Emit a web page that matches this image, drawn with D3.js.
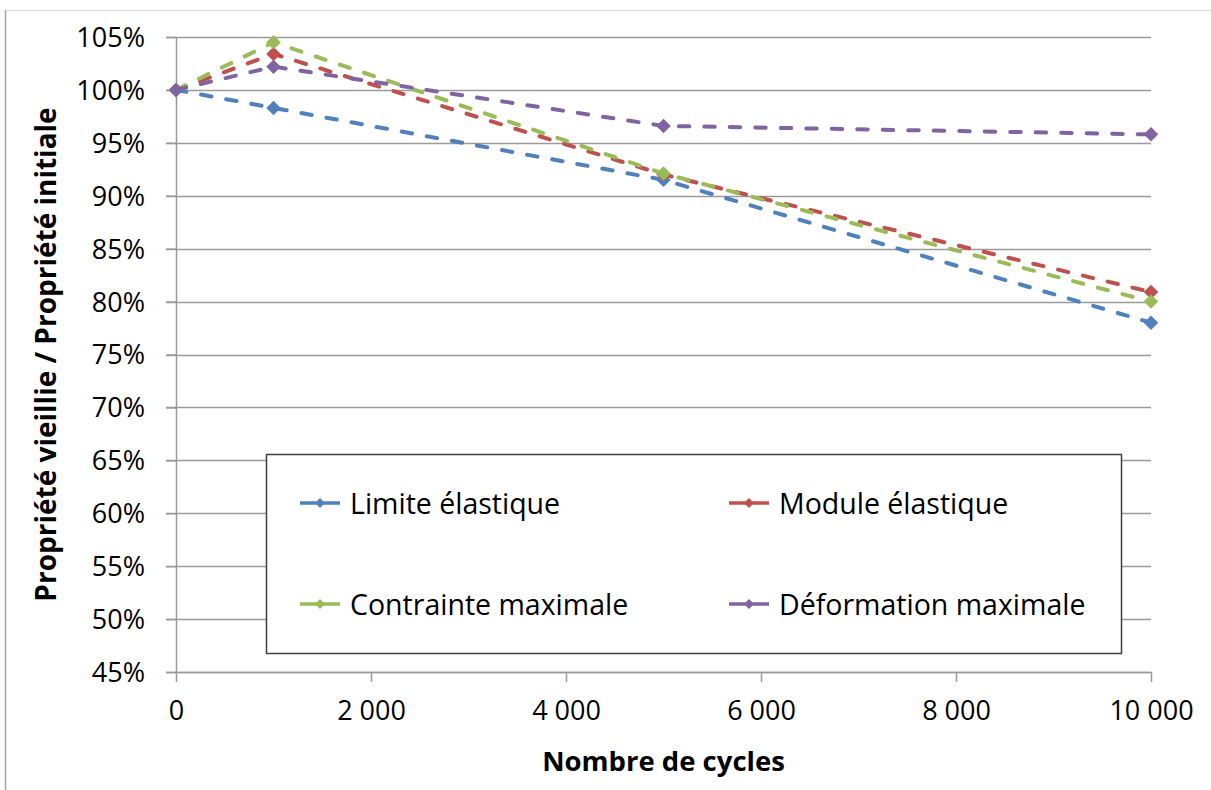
<!DOCTYPE html>
<html>
<head>
<meta charset="utf-8">
<script src="https://cdn.jsdelivr.net/npm/d3@7"></script>
<style>
  html, body { margin: 0; padding: 0; background: #fff; }
  svg { display: block; }
  text { font-family: "Open Sans", "DejaVu Sans", sans-serif; fill: #000; }
</style>
</head>
<body>
<svg id="chart" width="1211" height="790"></svg>
<script>
// Number of cycles at each measurement
const cycles = [0, 1000, 5000, 10000];

// Aged property / initial property, per series
const seriesNames = ["Limite élastique", "Module élastique", "Contrainte maximale", "Déformation maximale"];
const limiteElastique   = [1.000, 0.983, 0.915, 0.780];
const moduleElastique   = [1.000, 1.034, 0.920, 0.809];
const contrainteMax     = [1.000, 1.045, 0.921, 0.800];
const deformationMax    = [1.000, 1.022, 0.966, 0.958];
const seriesColors = ["#4f81bd", "#c0504d", "#9bbb59", "#8064a2"];

// Axis ticks
const xTicks = [0, 2000, 4000, 6000, 8000, 10000];
const yTicks = [0.45, 0.50, 0.55, 0.60, 0.65, 0.70, 0.75, 0.80, 0.85, 0.90, 0.95, 1.00, 1.05];

const xTitle = "Nombre de cycles";
const yTitle = "Propriété vieillie / Propriété initiale";

const seriesValues = [limiteElastique, moduleElastique, contrainteMax, deformationMax];
const series = seriesNames.map((name, i) => ({
  name,
  color: seriesColors[i],
  points: cycles.map((c, j) => ({ x: c, y: seriesValues[i][j] }))
}));

const svg = d3.select("#chart");
const plot = { left: 176, right: 1151, top: 37, bottom: 672 };

const x = d3.scaleLinear().domain([0, 10000]).range([plot.left, plot.right]);
const y = d3.scaleLinear().domain([0.45, 1.05]).range([plot.bottom, plot.top]);

const frLocale = d3.formatLocale({ decimal: ",", thousands: " ", grouping: [3], currency: ["", " €"] });
const fmtX = frLocale.format(",d");
const fmtY = d3.format(".0%");

// Outer chart frame
svg.append("rect")
  .attr("x", 5.5).attr("y", 10.5)
  .attr("width", 1300).attr("height", 900)
  .attr("fill", "none")
  .attr("stroke", "#d9d9d9")
  .attr("stroke-width", 1);
svg.append("line")
  .attr("x1", 5.5).attr("x2", 5.5).attr("y1", 10).attr("y2", 790)
  .attr("stroke", "#a6a6a6").attr("stroke-width", 1.5);

// Horizontal gridlines (extending left as tick marks)
svg.append("g")
  .selectAll("line")
  .data(yTicks)
  .join("line")
  .attr("x1", plot.left - 10)
  .attr("x2", plot.right)
  .attr("y1", d => Math.round(y(d)) + 0.5)
  .attr("y2", d => Math.round(y(d)) + 0.5)
  .attr("stroke", "#9a9a9a")
  .attr("stroke-width", 1.5);

// Y axis
const yAxis = svg.append("g")
  .attr("transform", `translate(${plot.left},0)`)
  .call(d3.axisLeft(y).tickValues(yTicks).tickFormat(fmtY).tickSize(10).tickSizeOuter(0).tickPadding(21));
yAxis.select(".domain").attr("stroke", "#9a9a9a").attr("stroke-width", 1.5);
yAxis.selectAll(".tick line").attr("stroke", "#9a9a9a").attr("stroke-width", 1.5);
yAxis.selectAll(".tick text")
  .style("font-family", "'Open Sans', sans-serif")
  .style("font-size", "27px")
  .attr("dy", "0.35em");

// X axis
const xAxis = svg.append("g")
  .attr("transform", `translate(0,${plot.bottom})`)
  .call(d3.axisBottom(x).tickValues(xTicks).tickFormat(fmtX).tickSize(10).tickSizeOuter(0).tickPadding(19));
xAxis.select(".domain").attr("stroke", "#9a9a9a").attr("stroke-width", 1.5);
xAxis.selectAll(".tick line").attr("stroke", "#9a9a9a").attr("stroke-width", 1.5);
xAxis.selectAll(".tick text")
  .style("font-family", "'Open Sans', sans-serif")
  .style("font-size", "27px");

// Axis titles
svg.append("text")
  .attr("x", (plot.left + plot.right) / 2)
  .attr("y", 760)
  .attr("text-anchor", "middle")
  .attr("dominant-baseline", "central")
  .style("font-size", "27.5px")
  .style("font-weight", "bold")
  .text(xTitle);

svg.append("text")
  .attr("transform", `translate(45,${(plot.top + plot.bottom) / 2}) rotate(-90)`)
  .attr("text-anchor", "middle")
  .attr("dominant-baseline", "central")
  .style("font-size", "28px")
  .style("font-weight", "bold")
  .text(yTitle);

// Series lines and markers
const line = d3.line().x(d => x(d.x)).y(d => y(d.y));
const diamond = d3.symbol().type(d3.symbolSquare).size(105);
const diamondSmall = d3.symbol().type(d3.symbolSquare).size(50);

const seriesG = svg.append("g");
series.forEach(s => {
  const g = seriesG.append("g");
  g.append("path")
    .datum(s.points)
    .attr("d", line)
    .attr("fill", "none")
    .attr("stroke", s.color)
    .attr("stroke-width", 4)
    .attr("stroke-dasharray", "10.5 15")
    .attr("stroke-linecap", "round");
  g.selectAll("path.marker")
    .data(s.points)
    .join("path")
    .attr("class", "marker")
    .attr("d", diamond)
    .attr("transform", d => `translate(${x(d.x)},${y(d.y)}) rotate(45)`)
    .attr("fill", s.color);
});

// Legend
const legend = svg.append("g");
legend.append("rect")
  .attr("x", 266.5).attr("y", 454.5)
  .attr("width", 855).attr("height", 199)
  .attr("fill", "#fff")
  .attr("stroke", "#404040")
  .attr("stroke-width", 1.5);

const legendPos = [
  { x: 300, y: 503 }, { x: 729, y: 503 },
  { x: 300, y: 604 }, { x: 729, y: 604 }
];
series.forEach((s, i) => {
  const p = legendPos[i];
  const item = legend.append("g").attr("transform", `translate(${p.x},${p.y})`);
  item.append("line")
    .attr("x1", 0).attr("x2", 40)
    .attr("stroke", s.color)
    .attr("stroke-width", 3.5);
  item.append("path")
    .attr("d", diamondSmall)
    .attr("transform", "translate(20,0) rotate(45)")
    .attr("fill", s.color);
  item.append("text")
    .attr("x", 50)
    .attr("dominant-baseline", "central")
    .style("font-size", "28.5px")
    .text(s.name);
});
</script>
</body>
</html>
